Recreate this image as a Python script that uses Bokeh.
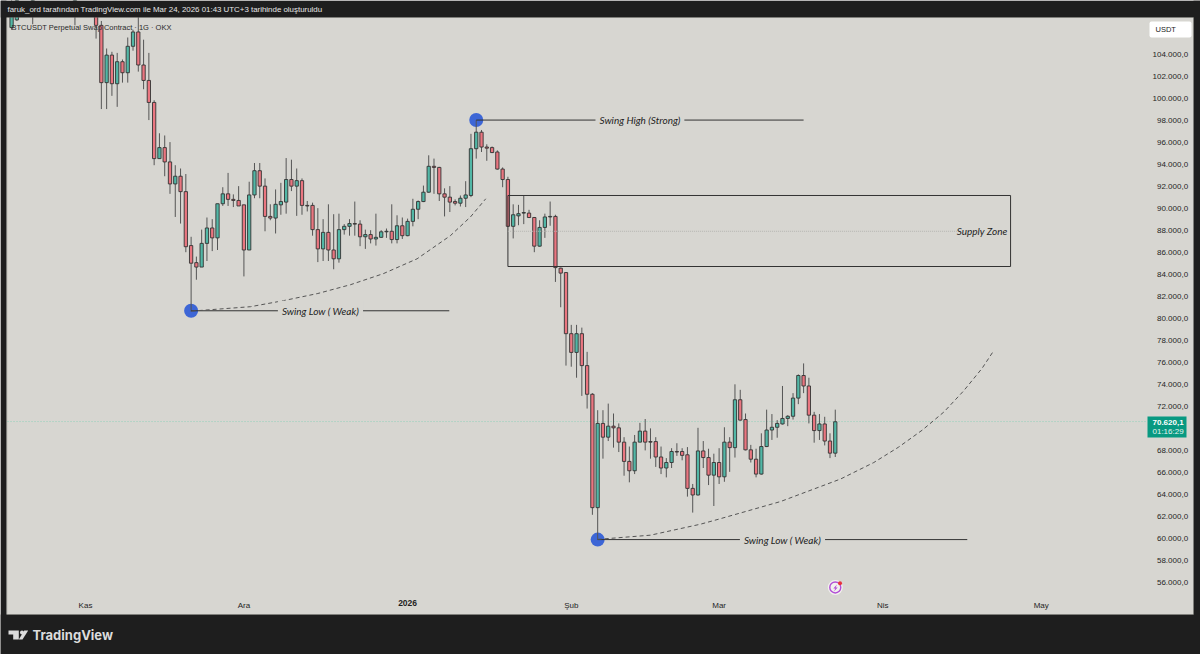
from bokeh.plotting import figure
from bokeh.models import ColumnDataSource, FixedTicker, Label, BoxAnnotation, PolyAnnotation, Range1d
from bokeh.embed import file_html
from bokeh.resources import INLINE

days = [-14, -13, -10, -2] + list(range(2, 143))
opens = [106.4,107.1,109.0,108.0,
107.6,106.6,101.4,103.9,101.3,103.3,102.3,104.7,106.0,103.0,101.6,99.6,94.5,95.5,94.2,92.2,92.9,91.5,86.6,85.05,84.65,86.8,88.2,87.3,90.4,91.3,90.8,90.7,
90.3,86.2,91.2,93.4,92.0,89.25,89.1,90.3,90.55,92.6,92.0,92.5,90.25,90.25,88.05,86.3,87.8,86.2,85.4,88.05,88.35,88.6,88.55,87.4,87.6,87.2,87.35,87.85,87.9,87.15,88.4,
87.5,88.8,89.9,90.6,91.45,93.8,93.7,91.3,91.0,90.6,90.45,90.9,91.15,95.4,96.9,95.55,95.5,95.1,93.55,92.6,88.35,89.3,89.55,89.55,89.15,86.55,88.25,89.2,89.25,84.55,84.15,
78.6,76.9,78.6,75.7,73.1,62.8,70.45,69.2,70.2,70.05,68.75,67.0,66.15,68.75,69.75,68.8,68.8,67.4,66.4,66.9,67.9,67.9,67.6,64.55,63.95,67.95,67.35,65.75,
66.9,65.6,68.75,68.25,72.6,70.8,68.05,67.2,65.85,68.35,69.85,70.1,70.4,70.9,71.1,72.75,74.8,73.85,71.2,69.8,70.4,68.85,67.75]
highs = [109.0,110.5,112.0,110.5,
108.0,107.0,104.5,104.2,104.1,103.5,105.5,106.2,107.5,105.3,104.1,99.8,96.8,96.6,96.0,93.9,93.6,93.1,87.4,85.6,88.05,89.15,89.0,90.4,91.9,93.2,91.25,92.0,
90.3,92.4,94.1,94.1,92.7,90.35,91.7,92.3,94.55,94.4,93.6,92.7,90.65,90.5,90.0,89.0,90.35,89.45,89.5,88.55,89.0,90.6,88.9,88.05,88.0,89.5,88.0,88.15,90.35,89.35,89.15,
89.05,90.85,90.7,92.05,94.8,94.5,93.75,91.8,92.0,90.8,91.15,92.45,96.75,98.0,97.1,95.8,95.6,95.25,93.7,92.85,90.35,90.3,91.15,89.85,89.2,88.9,89.5,90.6,89.4,84.6,84.2,
79.4,79.4,79.15,76.95,73.2,71.65,71.65,72.25,71.35,70.45,69.2,68.35,69.4,70.5,70.85,70.0,69.2,68.35,67.3,68.2,68.65,68.2,68.3,64.95,70.05,68.85,68.15,67.7,
68.2,70.1,69.2,74.0,73.5,71.35,68.5,68.15,69.55,71.7,71.3,70.75,73.85,71.2,73.2,74.9,75.9,74.6,71.5,71.3,71.05,69.55,71.7]
lows = [106.2,107.0,106.7,106.6,
105.4,99.0,99.0,100.2,99.2,101.4,101.4,104.3,102.4,100.8,98.0,93.9,94.5,92.9,91.3,89.2,88.6,86.0,80.6,83.5,84.65,85.2,86.1,86.2,90.2,90.2,90.1,90.2,
83.8,86.2,90.9,90.9,87.9,88.9,87.7,89.4,89.5,91.55,89.3,89.4,89.7,87.5,85.1,85.2,85.2,84.45,85.05,87.6,87.5,87.5,86.55,86.3,86.8,86.6,87.3,87.3,86.8,86.8,87.2,
87.45,88.35,89.0,90.55,91.4,91.3,90.65,89.25,89.65,90.25,90.15,90.1,91.0,94.5,95.1,94.3,95.0,93.5,91.9,88.3,87.25,88.45,88.55,89.1,86.0,86.5,87.3,88.4,83.3,81.0,75.7,
75.6,74.6,72.95,71.8,62.15,59.9,67.25,68.85,68.25,67.85,65.7,65.1,65.85,68.75,68.0,67.25,66.5,65.85,65.55,66.4,67.5,67.1,63.8,62.35,63.9,66.4,64.85,62.95,
64.95,65.15,66.05,67.35,70.7,68.0,66.9,65.55,65.8,68.3,68.95,69.15,70.35,70.2,70.8,72.2,73.2,70.45,68.7,68.95,68.45,67.3,67.4]
closes = [107.9,110.0,111.0,110.0,
106.6,101.4,103.9,101.3,103.3,102.3,104.7,106.0,103.0,101.6,99.6,94.5,95.5,94.2,92.2,92.9,91.5,86.5,85.0,84.65,86.8,88.2,87.3,90.4,91.3,90.8,90.7,90.2,
86.2,91.2,93.4,92.0,89.25,89.1,90.35,90.6,92.6,92.0,92.5,90.25,90.2,88.05,86.3,87.8,86.2,85.4,88.05,88.35,88.6,88.55,87.4,87.6,87.2,87.35,87.85,87.9,87.15,88.4,87.5,
88.8,89.9,90.6,91.45,93.8,93.7,91.3,91.0,90.55,90.45,90.9,91.2,95.4,96.9,95.55,95.45,95.05,93.55,92.6,88.35,89.4,89.5,89.6,89.15,86.55,88.25,89.2,89.25,84.6,84.1,78.6,
76.9,78.6,75.7,73.1,62.8,70.45,69.2,70.2,70.05,68.75,67.0,66.15,68.75,69.75,68.75,68.75,67.4,66.4,66.9,67.9,67.85,67.55,64.55,63.95,67.95,67.35,65.75,66.9,
65.6,68.75,68.25,72.6,70.75,68.05,67.2,65.85,68.35,69.85,70.1,70.45,70.9,71.1,72.75,74.8,73.85,71.2,69.8,70.4,68.85,67.75,70.6]

price_ticks = [v * 1000 for v in (56, 58, 60, 62, 64, 66, 68, 72, 74, 76, 78, 80, 82, 84, 86, 88, 90, 92, 94, 96, 98, 100, 102, 104)]
month_ticks = [0, 30, 92, 120, 151, 181]
month_names = ["Kas", "Ara", "Şub", "Mar", "Nis", "May"]

curve1_d = [20.1, 31.25, 37.5, 44, 50.2, 56.4, 62.8, 69.1, 72.9, 75.8]
curve1_p = [80.65, 81.05, 81.6, 82.25, 83.05, 84.05, 85.4, 87.5, 89.2, 90.85]
curve2_d = [97, 107, 116.5, 119.9, 131.6, 143, 149.3, 154, 158.5, 162.6, 166.3, 169.8, 172]
curve2_p = [59.92, 60.3, 61.3, 61.75, 63.35, 65.4, 66.9, 68.3, 69.85, 71.5, 73.4, 75.45, 77.05]

BG, DARK = "#d7d6d1", "#1e1e1e"
UP, DOWN = "#52b7a6", "#ea7680"
INK, WICK = "#333333", "#555555"
W, H = 1200, 654

p = figure(width=W, height=H, output_backend="svg", toolbar_location=None,
           x_range=Range1d(-16.1, 211.17), y_range=Range1d(49463, 108859),
           y_axis_location="right", background_fill_color=BG, border_fill_color=BG,
           min_border=0, outline_line_color=None, tools="")
p.styles = {"position": "absolute", "left": "0", "top": "0"}
p.grid.visible = False

def price_text(v):
    s = f"{v:,.1f}".replace(",", "_").replace(".", ",").replace("_", ".")
    return s if v >= 100000 else "\u2007" + s

ya = p.yaxis[0]
ya.ticker = FixedTicker(ticks=price_ticks)
ya.major_label_overrides = {v: price_text(v) for v in price_ticks}
ya.major_label_standoff = -48
ya.major_label_text_font = "Liberation Sans"
ya.major_label_text_font_size = "8px"
ya.major_label_text_color = "#1f1f1f"
xa = p.xaxis[0]
xa.ticker = FixedTicker(ticks=month_ticks)
xa.major_label_overrides = dict(zip(month_ticks, month_names))
xa.major_label_standoff = -54
xa.major_label_text_font = "Liberation Sans"
xa.major_label_text_font_size = "8px"
xa.major_label_text_color = "#1f1f1f"
for ax in (xa, ya):
    ax.axis_line_color = None
    ax.major_tick_line_color = None
    ax.minor_tick_line_color = None
    ax.major_tick_out = 0
    ax.major_tick_in = 0
    ax.minor_tick_out = 0
    ax.minor_tick_in = 0

price_line = 70620
p.line([-14.77, 201], [price_line, price_line], line_color="#8fd0ba", line_width=1, line_dash="1 2")

p.scatter([20, 74, 97], [80680, 98000, 59900], size=14, color="#3d66d6", line_color=None)

source = ColumnDataSource(dict(
    d=days,
    h=[v * 1000 for v in highs], l=[v * 1000 for v in lows],
    top=[max(a, b) * 1000 for a, b in zip(opens, closes)],
    bot=[min(a, b) * 1000 for a, b in zip(opens, closes)],
    col=[UP if b >= a else DOWN for a, b in zip(opens, closes)],
))
p.segment("d", "h", "d", "l", source=source, line_color=WICK, line_width=1)
p.vbar("d", width=0.62, top="top", bottom="bot", source=source, fill_color="col",
       line_color=INK, line_width=0.9)

swing = dict(x0=[20, 74, 97], x1=[68.9, 136, 167], y=[80680, 98000, 59900])
p.segment(swing["x0"], swing["y"], swing["x1"], swing["y"], line_color="#333333", line_width=1)
for x, y, t in [(44.5, 80680, "Swing Low ( Weak)"), (105, 98000, "Swing High (Strong)"), (132, 59900, "Swing Low ( Weak)")]:
    p.add_layout(Label(x=x, y=y, text=t, text_font="Lato", text_font_style="italic",
                       text_font_size="10px", text_color="#222222", text_align="center",
                       text_baseline="middle", background_fill_color=BG, padding=4))

p.line(curve1_d, [v * 1000 for v in curve1_p], line_color="#555555", line_width=1, line_dash="4 3")
p.line(curve2_d, [v * 1000 for v in curve2_p], line_color="#555555", line_width=1, line_dash="4 3")

p.quad(left=[80], right=[175.2], top=[91150], bottom=[84700], fill_color=None, line_color="#333333", line_width=1)
p.line([80, 165], [87900, 87900], line_color="#b5b5b0", line_width=1, line_dash="1 1")
p.add_layout(Label(x=169.8, y=87900, text="Supply Zone", text_font="Lato", text_font_style="italic",
                   text_font_size="10px", text_color="#222222", text_align="center", text_baseline="middle"))

p.add_layout(Label(x=61, y=54100, text="2026", text_font="Liberation Sans", text_font_style="bold",
                   text_font_size="8.5px", text_color="#1f1f1f", text_align="center", text_baseline="middle"))

p.scatter([142], [55550], size=15, color="#f2f1ee", line_color=None)
p.scatter([142], [55550], size=11, fill_color=None, line_color="#b24fd6", line_width=1.4)
p.scatter([142.9], [55930], size=4, color="#e8323c", line_color=None)

# page furniture: screen units count from the frame's left and bottom edges
def sy(y): return H - y

def sl(x, y, text, **kw):
    kw.setdefault("text_font", "Liberation Sans")
    kw.setdefault("text_baseline", "middle")
    p.add_layout(Label(x=x, y=sy(y), x_units="screen", y_units="screen", text=text, **kw))

def box(l, r, t, b, color, radius=0, line=None):
    p.add_layout(BoxAnnotation(left=l, right=r, top=sy(t), bottom=sy(b), left_units="screen",
                               right_units="screen", top_units="screen", bottom_units="screen",
                               fill_color=color, fill_alpha=1 if color else 0, line_color=line,
                               border_radius=radius))

def poly(pts, color):
    p.add_layout(PolyAnnotation(xs=[a for a, _ in pts], ys=[sy(b) for _, b in pts], xs_units="screen",
                                ys_units="screen", fill_color=color, fill_alpha=1, line_color=None))

# dark window chrome around the chart
box(0, W, 0, 17, DARK)
box(0, W, 614, H, DARK)
box(0, 6, 0, H, DARK)
box(1193, W, 0, H, DARK)
box(6.5, 1193, 17, 614, None, line="#8a8a86")

sl(7, 9, "faruk_ord tarafından TradingView.com ile Mar 24, 2026 01:43 UTC+3 tarihinde oluşturuldu",
   text_font_size="7.9px", text_color="#e6e6e6")
sl(11, 27, "BTCUSDT Perpetual Swap Contract · 1G · OKX", text_font_size="7.5px", text_color="#2a2a2a")
sl(32, 634, "TradingView", text_font="Inter", text_font_size="13px", text_font_style="bold", text_color="#dcdcdc")

poly([(8, 630), (18.3, 630), (18.3, 639), (12.7, 639), (12.7, 634), (8, 634)], "#dcdcdc")
box(19.5, 23.5, 630, 634, "#dcdcdc", 2)
poly([(23.7, 630), (27.7, 630), (22, 639), (18.3, 639)], "#dcdcdc")
poly([(836.5, 584), (832.8, 588), (834.8, 588), (833.5, 591), (837.2, 587), (835.2, 587)], "#b24fd6")

box(1149, 1191, 21, 37, "#ffffff", 2)
sl(1155, 29, "USDT", text_font_size="7.5px", text_color="#222222")
box(1147, 1186, 416, 437, "#089981")
sl(1152, 422, "70.620,1", text_font_size="8px", text_color="#ffffff", text_font_style="bold")
sl(1152, 431, "01:16:29", text_font_size="8px", text_color="#e6f5f1")

open("out.html", "w").write(file_html(p, INLINE))
